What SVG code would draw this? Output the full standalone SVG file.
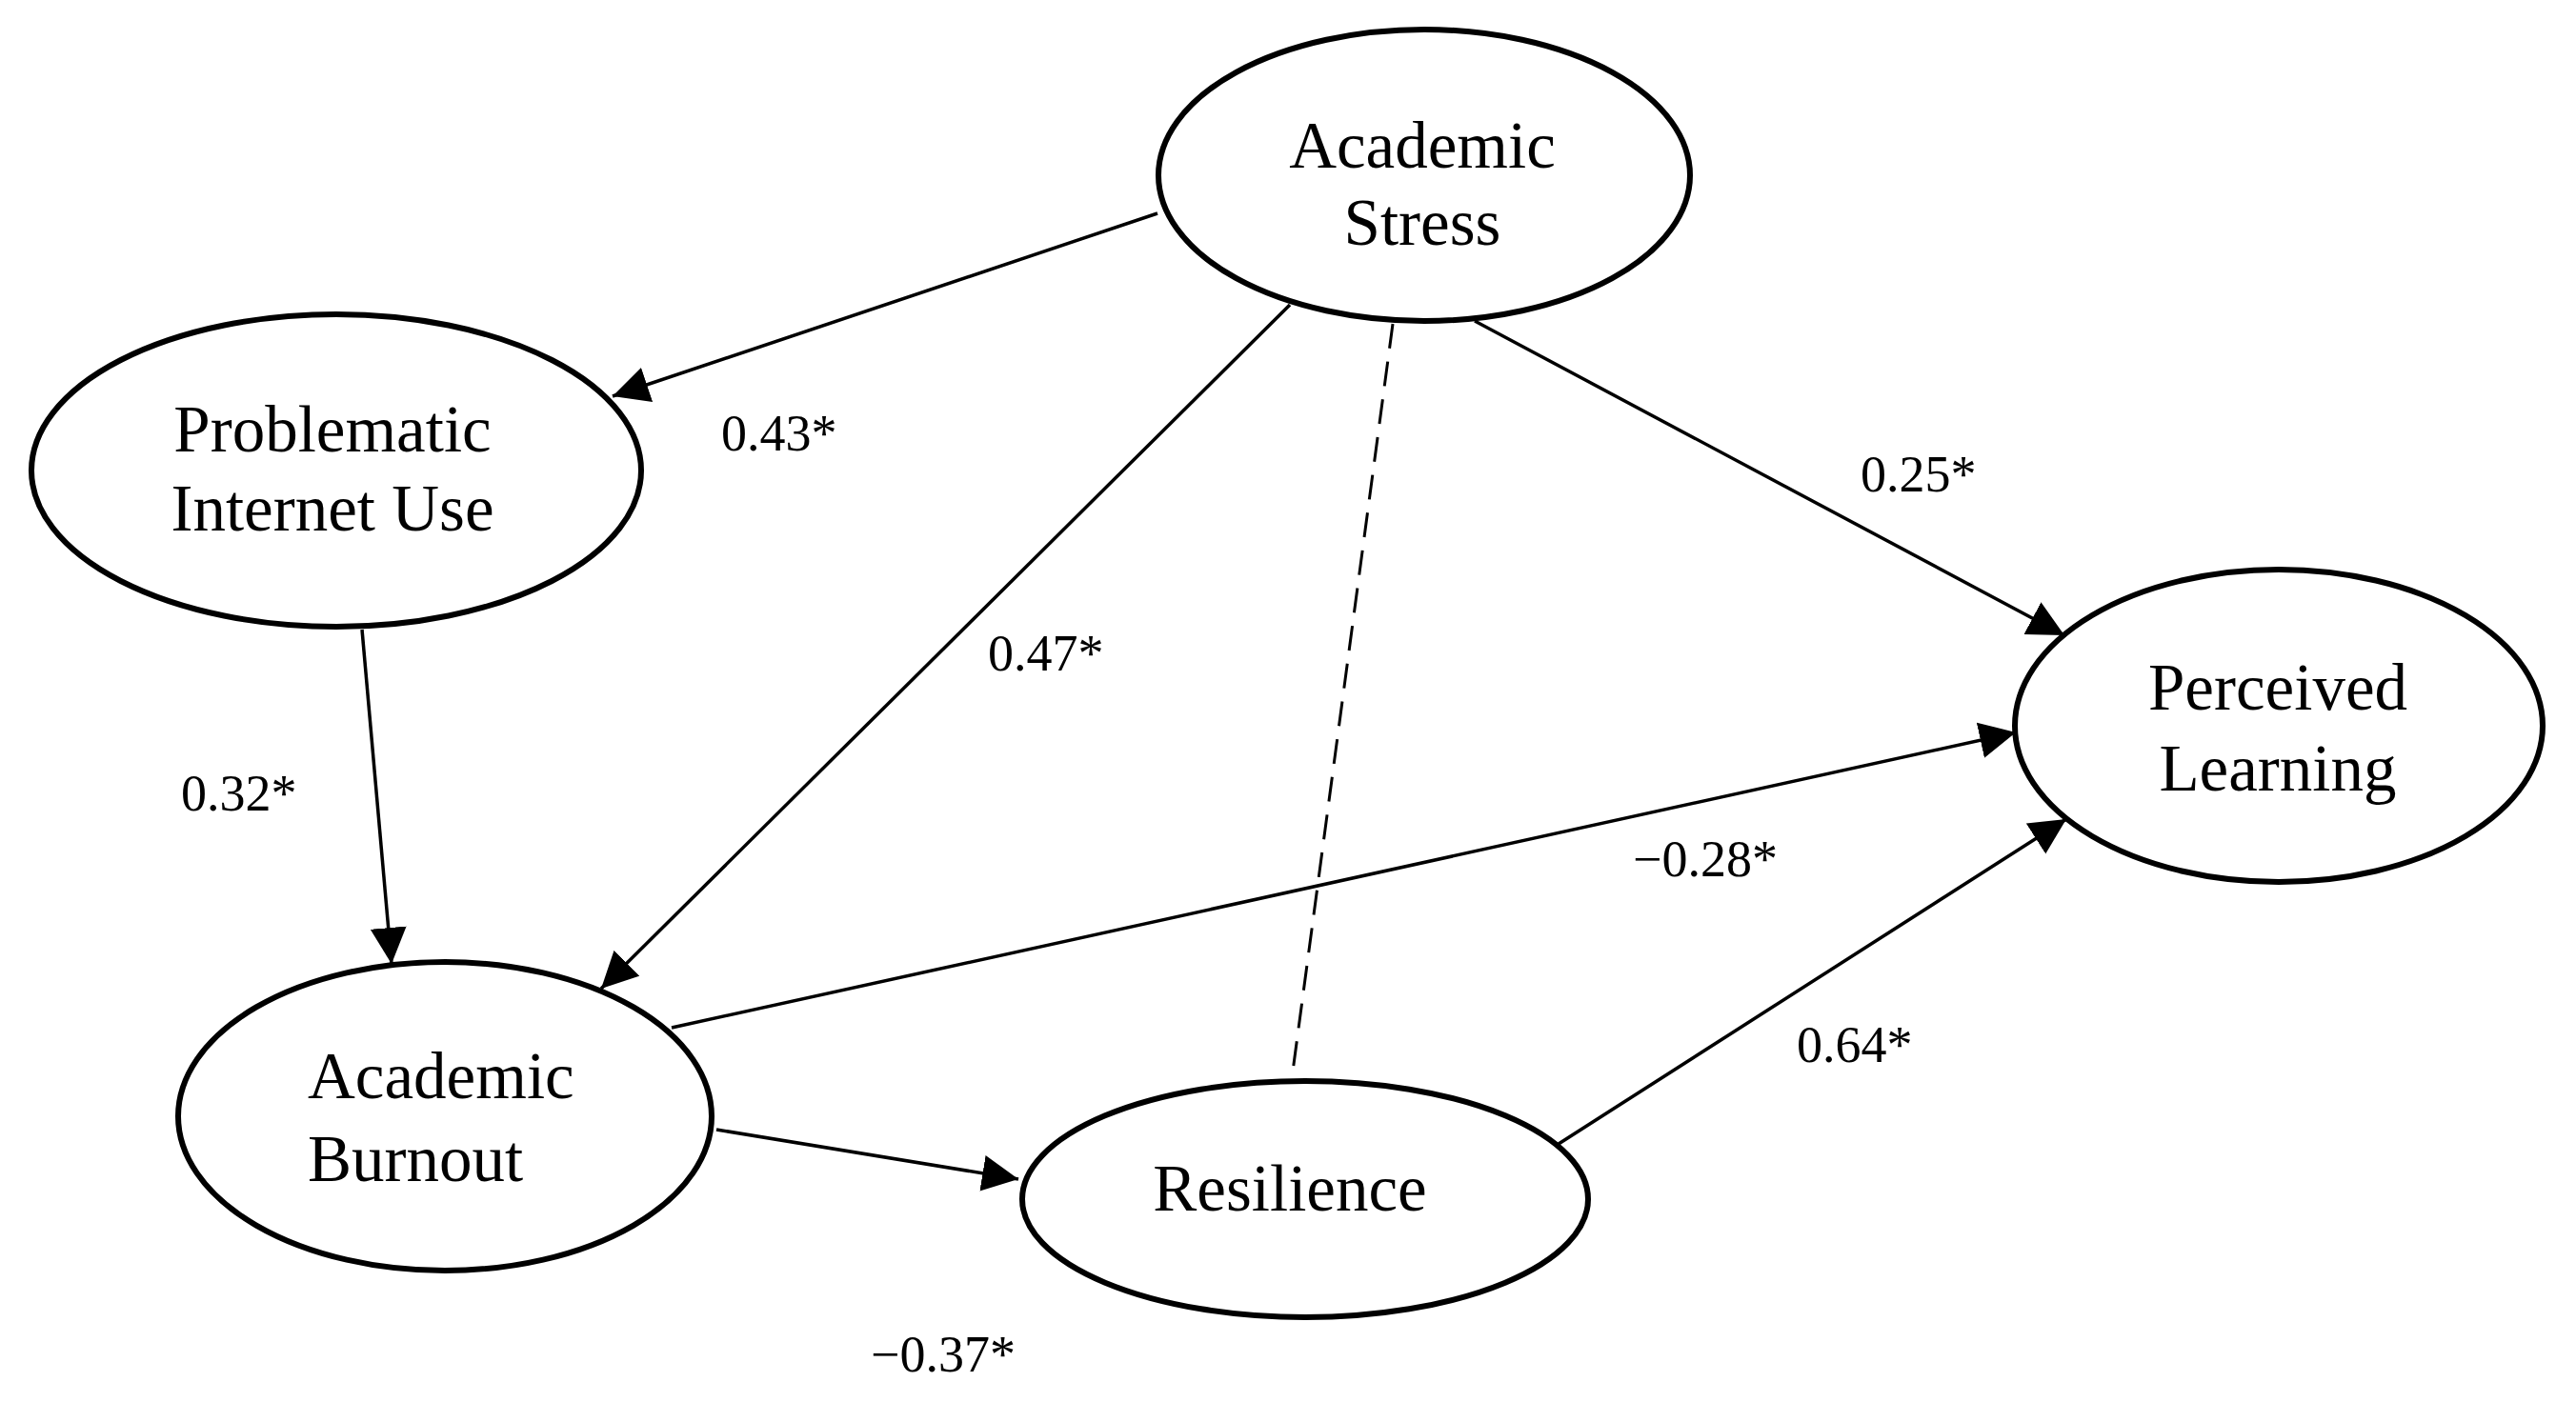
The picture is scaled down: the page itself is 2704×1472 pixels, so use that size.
<svg xmlns="http://www.w3.org/2000/svg" width="2704" height="1472" viewBox="0 0 2704 1472">
<style>
.node{fill:#fff;stroke:#000;stroke-width:6}
.lbl{font-family:"Liberation Serif","Times New Roman",serif;font-size:69px;fill:#000}
.coef{font-family:"Liberation Serif","Times New Roman",serif;font-size:54px;fill:#000}
.edge{stroke:#000;stroke-width:3.5;fill:none}
.dash{stroke:#000;stroke-width:3;fill:none;stroke-dasharray:26 14}
</style>
<defs>
<marker id="arr" markerUnits="userSpaceOnUse" markerWidth="40" markerHeight="40" refX="38" refY="19" orient="auto" viewBox="0 0 40 40">
<path d="M0,0 L38,19 L0,38 z" fill="#000"/>
</marker>
</defs>
<rect width="2704" height="1472" fill="#fff"/>
<g id="connectors">
<line class="edge" x1="1215" y1="224" x2="643" y2="416" marker-end="url(#arr)"/>
<line class="edge" x1="1354" y1="320" x2="631" y2="1038" marker-end="url(#arr)"/>
<line class="dash" x1="1462" y1="340" x2="1357" y2="1125"/>
<line class="edge" x1="1548" y1="337" x2="2167" y2="667" marker-end="url(#arr)"/>
<line class="edge" x1="380" y1="661" x2="411" y2="1012" marker-end="url(#arr)"/>
<line class="edge" x1="705" y1="1079" x2="2116" y2="769" marker-end="url(#arr)"/>
<line class="edge" x1="752" y1="1186" x2="1069" y2="1238" marker-end="url(#arr)"/>
<line class="edge" x1="1636" y1="1201" x2="2169" y2="860" marker-end="url(#arr)"/>
</g>
<g id="academic-stress">
<ellipse class="node" cx="1495" cy="184" rx="279" ry="153"/>
<text class="lbl" x="1493" y="176" text-anchor="middle">Academic</text>
<text class="lbl" x="1493" y="257" text-anchor="middle">Stress</text>
</g>
<g id="problematic-internet-use">
<ellipse class="node" cx="353" cy="494" rx="320" ry="164"/>
<text class="lbl" x="349" y="474" text-anchor="middle">Problematic</text>
<text class="lbl" x="349" y="557" text-anchor="middle">Internet Use</text>
</g>
<g id="perceived-learning">
<ellipse class="node" cx="2392" cy="762" rx="277" ry="164"/>
<text class="lbl" x="2391" y="745" text-anchor="middle">Perceived</text>
<text class="lbl" x="2391" y="830" text-anchor="middle">Learning</text>
</g>
<g id="academic-burnout">
<ellipse class="node" cx="467" cy="1172" rx="280" ry="162"/>
<text class="lbl" x="323" y="1153">Academic</text>
<text class="lbl" x="323" y="1240">Burnout</text>
</g>
<g id="resilience">
<ellipse class="node" cx="1370" cy="1259" rx="297" ry="124"/>
<text class="lbl" x="1354" y="1271" text-anchor="middle">Resilience</text>
</g>
<g id="coefficients">
<text class="coef" x="757" y="473">0.43*</text>
<text class="coef" x="1037" y="704">0.47*</text>
<text class="coef" x="1953" y="516">0.25*</text>
<text class="coef" x="190" y="851">0.32*</text>
<text class="coef" x="1714" y="920">−0.28*</text>
<text class="coef" x="1886" y="1115">0.64*</text>
<text class="coef" x="914" y="1440">−0.37*</text>
</g>
</svg>
